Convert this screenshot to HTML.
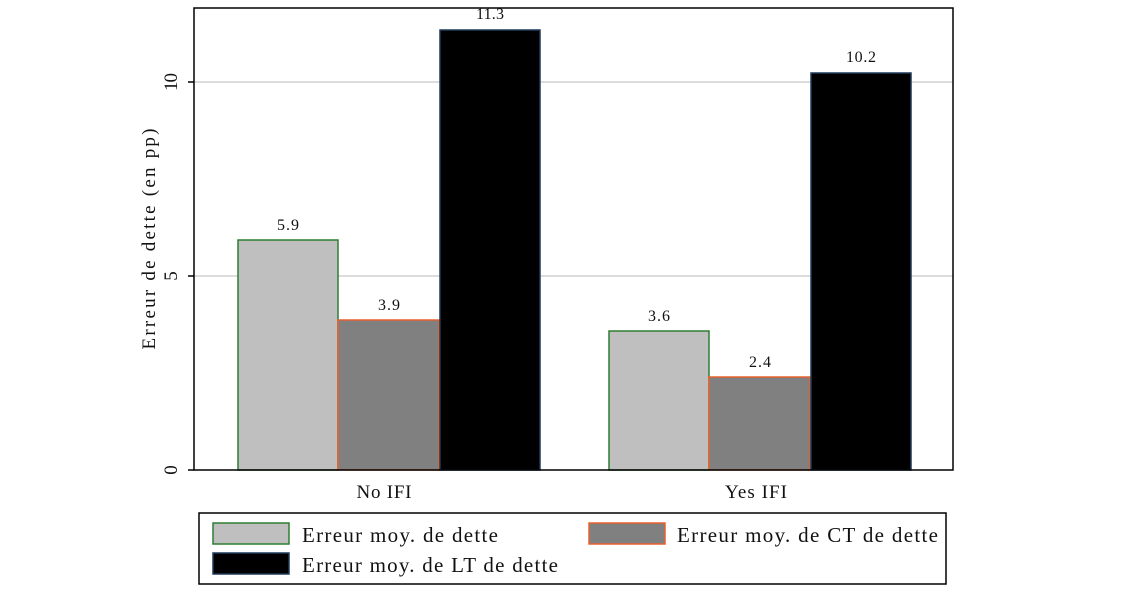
<!DOCTYPE html>
<html><head><style>body{margin:0;background:#fff}svg{display:block}text{font-family:"Liberation Serif",serif;fill:#111}</style></head>
<body>
<svg width="1133" height="591" viewBox="0 0 1133 591" xmlns="http://www.w3.org/2000/svg">
<line x1="194" y1="82" x2="953" y2="82" stroke="#dcdcdc" stroke-width="2"/>
<line x1="194" y1="276" x2="953" y2="276" stroke="#dcdcdc" stroke-width="2"/>
<rect x="238" y="240" width="100" height="230" fill="#bfbfbf" stroke="#2e7d32" stroke-width="1.5"/>
<rect x="338" y="320" width="101" height="150" fill="#808080" stroke="#e8602c" stroke-width="1.5"/>
<rect x="440" y="30" width="100" height="440" fill="#000" stroke="#1e3a5a" stroke-width="1.5"/>
<rect x="609" y="331" width="100" height="139" fill="#bfbfbf" stroke="#2e7d32" stroke-width="1.5"/>
<rect x="709" y="377" width="101" height="93" fill="#808080" stroke="#e8602c" stroke-width="1.5"/>
<rect x="811" y="73" width="100" height="397" fill="#000" stroke="#1e3a5a" stroke-width="1.5"/>
<g font-size="16" text-anchor="middle">
<text x="288" y="230" textLength="22">5.9</text><text x="389" y="310" textLength="22">3.9</text><text x="490" y="19" textLength="28">11.3</text>
<text x="659" y="321" textLength="22">3.6</text><text x="760" y="367" textLength="22">2.4</text><text x="861" y="62" textLength="30">10.2</text>
</g>
<rect x="194" y="8" width="759" height="462" fill="none" stroke="#000" stroke-width="1.5"/>
<g stroke="#000" stroke-width="1.5"><line x1="188" y1="470" x2="194" y2="470"/><line x1="188" y1="276" x2="194" y2="276"/><line x1="188" y1="82" x2="194" y2="82"/></g>
<g font-size="19" text-anchor="middle">
<text transform="translate(177,470) rotate(-90)">0</text>
<text transform="translate(177,276) rotate(-90)">5</text>
<text transform="translate(177,82) rotate(-90)" textLength="18">10</text>
<text transform="translate(155,239) rotate(-90)" textLength="221">Erreur de dette (en pp)</text>
<text x="384" y="498" textLength="55">No IFI</text><text x="756" y="498" textLength="62">Yes IFI</text>
</g>
<rect x="199" y="513" width="747" height="71" fill="#fff" stroke="#000" stroke-width="1.5"/>
<rect x="213" y="523" width="76" height="21" fill="#bfbfbf" stroke="#2e7d32" stroke-width="1.5"/>
<rect x="589" y="523" width="76" height="21" fill="#808080" stroke="#e8602c" stroke-width="1.5"/>
<rect x="213" y="553" width="76" height="21" fill="#000" stroke="#1e3a5a" stroke-width="1.5"/>
<g font-size="21">
<text x="302" y="542" textLength="196">Erreur moy. de dette</text>
<text x="677" y="542" textLength="261">Erreur moy. de CT de dette</text>
<text x="302" y="572" textLength="256">Erreur moy. de LT de dette</text>
</g>
</svg>
</body></html>
